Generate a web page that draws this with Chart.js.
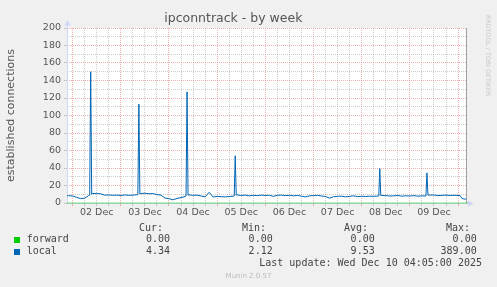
<!DOCTYPE html>
<html><head><meta charset="utf-8">
<script src="https://cdn.jsdelivr.net/npm/chart.js@4.4.1/dist/chart.umd.min.js"></script>
<style>
html,body{margin:0;padding:0;background:#f0f0f0;}
#wrap{position:relative;width:497px;height:287px;overflow:hidden;background:#f0f0f0;}
#c{position:absolute;left:0;top:0;}
.t{position:absolute;white-space:pre;font-family:"DejaVu Sans Mono",monospace;font-size:10px;line-height:12px;height:12px;color:#444;}
.sw{position:absolute;width:6px;height:6px;}
#munin{position:absolute;left:0;width:497px;top:271px;text-align:center;font-family:"DejaVu Sans",sans-serif;font-size:7px;line-height:10px;color:#bbb;}
#rrd{position:absolute;left:491.5px;top:15px;transform:rotate(90deg);transform-origin:0 0;font-family:"DejaVu Sans",sans-serif;font-size:6.3px;line-height:7px;color:#c8c8c8;white-space:nowrap;}
</style></head><body>
<div id="wrap">
<canvas id="c" width="497" height="287"></canvas>
<div class="t" style="right:334px;top:221.5px">Cur:</div>
<div class="t" style="right:231px;top:221.5px">Min:</div>
<div class="t" style="right:129px;top:221.5px">Avg:</div>
<div class="t" style="right:27px;top:221.5px">Max:</div>
<div class="sw" style="left:14px;top:236.5px;background:#00cc00"></div>
<div class="t" style="left:26.7px;top:233.3px">forward</div>
<div class="t" style="right:327px;top:233.3px">0.00</div>
<div class="t" style="right:224.3px;top:233.3px">0.00</div>
<div class="t" style="right:122.3px;top:233.3px">0.00</div>
<div class="t" style="right:20.3px;top:233.3px">0.00</div>
<div class="sw" style="left:14px;top:248.5px;background:#0066b3"></div>
<div class="t" style="left:26.7px;top:245.3px">local</div>
<div class="t" style="right:327px;top:245.3px">4.34</div>
<div class="t" style="right:224.3px;top:245.3px">2.12</div>
<div class="t" style="right:122.3px;top:245.3px">9.53</div>
<div class="t" style="right:20.3px;top:245.3px">389.00</div>
<div class="t" style="right:15px;top:257.3px">Last update: Wed Dec 10 04:05:00 2025</div>
<div id="munin">Munin 2.0.57</div>
<div id="rrd">RRDTOOL / TOBI OETIKER</div>
</div>
<script>
// hours since 01 Dec 00:00
const localHours = [21,22,24,26,28,30,32,32.5,33,33.5,34,36,38,40,42,44,46,48,50,52,54,56,56.5,57,57.5,58,60,62,64,66,68,70,72,74,76,78,80,80.5,81,81.5,82,84,86,88,90,92,94,96,98,100,102,104,104.5,105,105.5,106,108,110,112,114,116,118,120,122,124,126,128,130,132,134,136,138,140,142,144,146,148,150,152,154,156,158,160,162,164,166,168,170,172,174,176,176.5,177,177.5,178,180,182,184,186,188,190,192,194,196,198,200,200.5,201,202,204,206,208,210,212,214,216,217,218,220];
const localValues = [8.4,8.4,8.0,6.5,5.0,5.5,8.5,9.0,150,10.0,10.8,11.0,10.5,9.0,9.2,8.8,9.0,8.6,9.2,8.8,9.0,9.4,9.5,113,10.5,10.8,11.2,10.6,10.8,9.6,9.0,5.6,5.0,3.6,5.2,6.2,7.4,8.0,127,9.0,9.2,8.8,9.0,8.0,7.0,12.2,6.8,7.6,7.2,7.0,7.4,7.8,8.0,54,9.0,9.2,8.6,9.0,8.2,8.8,8.4,9.0,8.6,8.8,7.6,8.8,9.0,8.4,8.8,8.2,8.6,7.8,7.0,8.2,8.4,8.8,8.0,7.4,5.6,7.2,7.6,7.8,7.0,7.6,8.2,7.2,7.8,7.4,7.8,7.6,8.0,8.0,39.3,8.6,8.6,8.4,8.0,8.2,8.6,7.8,8.2,8.0,8.4,7.8,8.2,8.0,34.4,9.0,9.0,9.2,8.4,8.8,9.0,8.6,8.8,8.6,8.4,5.0,4.3];
const forwardHours = [21,221];
const forwardValues = [0,0];
const xGridHours = [24,30,36,42,48,54,60,66,72,78,84,90,96,102,108,114,120,126,132,138,144,150,156,162,168,174,180,186,192,198,204,210,216];
const xLabelHours = [36,60,84,108,132,156,180,204];
const xLabels = ['02 Dec','03 Dec','04 Dec','05 Dec','06 Dec','07 Dec','08 Dec','09 Dec'];
const yTicks = [0,10,20,30,40,50,60,70,80,90,100,110,120,130,140,150,160,170,180,190,200];

const MAJOR = 'rgba(222,79,79,0.45)';
const MINOR = 'rgba(143,143,143,0.45)';
const AXIS = '#cfd6f8';
const FONT = '#555';

const mun = {
  id:'mun',
  beforeDraw(ch){
    const a = ch.chartArea, c = ch.ctx;
    c.save(); c.fillStyle = '#fff'; c.fillRect(a.left, a.top, a.right-a.left, a.bottom-a.top); c.restore();
  },
  beforeDatasetsDraw(ch){
    const a = ch.chartArea, c = ch.ctx;
    c.save();
    c.strokeStyle = '#a0a0a0'; c.lineWidth = 1;
    c.beginPath(); c.moveTo(Math.round(a.right)-0.5, a.top); c.lineTo(Math.round(a.right)-0.5, a.bottom); c.stroke();
    c.strokeStyle = AXIS; c.fillStyle = AXIS;
    const L = Math.round(a.left)+0.5, B = Math.round(a.bottom)+0.5;
    c.beginPath(); c.moveTo(L, B); c.lineTo(L, a.top-5); c.stroke();
    c.beginPath(); c.moveTo(L, B); c.lineTo(a.right+4, B); c.stroke();
    c.beginPath(); c.moveTo(L, a.top-8); c.lineTo(L-3, a.top-2.5); c.lineTo(L+3, a.top-2.5); c.closePath(); c.fill();
    c.beginPath(); c.moveTo(a.right+7, B); c.lineTo(a.right+1.5, B-3); c.lineTo(a.right+1.5, B+3); c.closePath(); c.fill();
    c.restore();
  }
};

new Chart(document.getElementById('c'), {
  type:'line',
  data:{datasets:[
    {label:'forward', data:forwardHours.map((h,i)=>({x:h,y:forwardValues[i]})), borderColor:'rgba(0,204,0,0.55)', borderWidth:1, pointRadius:0, tension:0, clip:2},
    {label:'local', data:localHours.map((h,i)=>({x:h,y:localValues[i]})), borderColor:'#0066b3', borderWidth:1, pointRadius:0, tension:0}
  ]},
  options:{
    responsive:false, animation:false, events:[],
    layout:{padding:{left:0,right:30.3,top:0,bottom:64}},
    plugins:{
      legend:{display:false}, tooltip:{enabled:false},
      title:{display:true, text:'ipconntrack - by week', color:FONT, font:{family:'DejaVu Sans', size:12.5, weight:'normal'}, padding:{top:11,bottom:2}}
    },
    scales:{
      x:{type:'linear', min:21.2, max:220.3,
        afterBuildTicks(s){ s.ticks = xGridHours.map(v=>({value:v})); },
        afterFit(s){ s.height = 20; },
        ticks:{autoSkip:false, maxRotation:0, padding:1, color:FONT, font:{family:'DejaVu Sans', size:9.5},
          callback(v){ const i = xLabelHours.indexOf(v); return i>=0 ? xLabels[i] : ''; }},
        grid:{color:ctx=> (ctx.tick && ctx.tick.value%24===0) ? MAJOR : MINOR,
              tickColor:ctx=> (ctx.tick && ctx.tick.value%24===0) ? MAJOR : MINOR,
              tickLength:3, tickBorderDash:[], drawTicks:true},
        border:{display:false, dash:[1,1]}
      },
      y:{min:0, max:200,
        afterBuildTicks(s){ s.ticks = yTicks.map(v=>({value:v})); },
        afterFit(s){ s.width = 67; },
        ticks:{autoSkip:false, padding:3, color:FONT, font:{family:'DejaVu Sans', size:9.5},
          callback(v){ return v%20===0 ? String(v) : ''; }},
        grid:{color:ctx=> (ctx.tick && ctx.tick.value===0) ? 'rgba(0,0,0,0)' : (ctx.tick && ctx.tick.value%20===0 ? MAJOR : MINOR),
              tickColor:ctx=> (ctx.tick && ctx.tick.value%20===0) ? MINOR : 'rgba(0,0,0,0)',
              tickLength:3, tickBorderDash:[]},
        border:{display:false, dash:[1,1]},
        title:{display:true, text:'established connections', color:FONT, font:{family:'DejaVu Sans', size:11}, padding:{top:4.5,bottom:0}}
      }
    }
  },
  plugins:[mun]
});
</script>
</body></html>
